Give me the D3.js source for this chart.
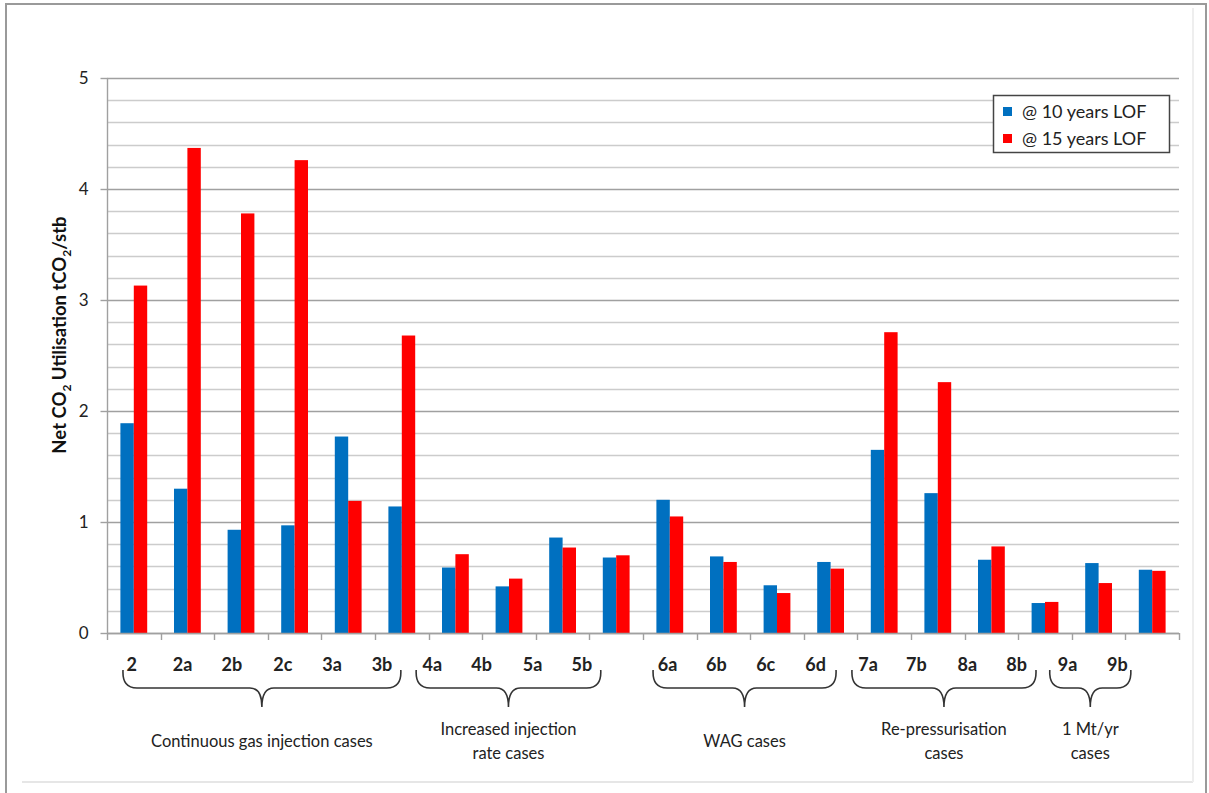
<!DOCTYPE html>
<html>
<head>
<meta charset="utf-8">
<script src="https://cdn.jsdelivr.net/npm/d3@7"></script>
<style>
  html, body { margin: 0; padding: 0; background: #fff; }
  svg { display: block; font-family: Lato, "Open Sans", sans-serif; }
</style>
</head>
<body>
<svg id="chart" width="1209" height="793"></svg>
<script>
// ---- data ----
const categories = ["2","2a","2b","2c","3a","3b","4a","4b","5a","5b","6a","6b","6c","6d","7a","7b","8a","8b","9a","9b"];
const seriesNames = ["@ 10 years LOF", "@ 15 years LOF"];
const lof10 = [1.89,1.30,0.93,0.97,1.77,1.14,0.59,0.42,0.86,0.68,1.20,0.69,0.43,0.64,1.65,1.26,0.66,0.27,0.63,0.57];
const lof15 = [3.13,4.37,3.78,4.26,1.19,2.68,0.71,0.49,0.77,0.70,1.05,0.64,0.36,0.58,2.71,2.26,0.78,0.28,0.45,0.56];
const yTicks = [0,1,2,3,4,5];
const groupLabels = [["Continuous gas injection cases"], ["Increased injection","rate cases"], ["WAG cases"], ["Re-pressurisation","cases"], ["1 Mt/yr","cases"]];
const groupFirst = [0, 6, 10, 14, 18];
const groupLast  = [5, 9, 13, 17, 19];

// ---- layout (hand-placed annotation offsets, in category units, as in the original) ----
const labelShift = [-0.04,-0.09,-0.17,-0.22,-0.30,-0.37,-0.43,-0.51,-0.56,-0.64,
                    -0.04,-0.13,-0.21,-0.28,-0.30,-0.40,-0.45,-0.53,-0.58,-0.65];
const braceStartOff = [0.28, -0.25, 0.17, -0.12, -0.43];
const braceEndOff   = [0.50, 0.23, 0.62, 0.35, 0.12];
const colors = ["#0070C0", "#FF0000"];

const svg = d3.select("#chart");
const plot = { left: 107, right: 1179, top: 78, bottom: 633 };

// frame
svg.append("rect").attr("x", 6).attr("y", 4).attr("width", 1200).attr("height", 810)
  .attr("fill", "none").attr("stroke", "#9a9a9a").attr("stroke-width", 2);
svg.append("line").attr("x1", 22).attr("x2", 1193).attr("y1", 782).attr("y2", 782)
  .attr("stroke", "#e6e6e6").attr("stroke-width", 2);
svg.append("line").attr("x1", 1193).attr("x2", 1193).attr("y1", 8).attr("y2", 782)
  .attr("stroke", "#eeeeee").attr("stroke-width", 2);

const x = d3.scaleBand().domain(categories).range([plot.left, plot.right]).padding(0);
const bw = x.bandwidth();
const step = x.step();
const x1 = d3.scaleBand().domain(seriesNames).range([bw * 0.25, bw * 0.75]).padding(0);
const y = d3.scaleLinear().domain([0, 5]).range([plot.bottom, plot.top]);

// gridlines
const minor = d3.range(0, 26).map(i => i * 0.2);
svg.append("g").selectAll("line").data(minor).join("line")
  .attr("x1", plot.left).attr("x2", plot.right)
  .attr("y1", d => Math.round(y(d)) + 0.5).attr("y2", d => Math.round(y(d)) + 0.5)
  .attr("stroke", d => (Math.abs(d - Math.round(d)) < 1e-6) ? "#a0a0a0" : "#cccccc")
  .attr("stroke-width", 1.4);

// y axis
const yAxis = d3.axisLeft(y).tickValues(yTicks).tickSize(7).tickPadding(12).tickFormat(d3.format("d"));
const gy = svg.append("g").attr("transform", `translate(${plot.left + 0.5},0)`).call(yAxis);
gy.select(".domain").attr("stroke", "#a0a0a0").attr("stroke-width", 1.4).attr("d", `M0,${plot.top}V${plot.bottom}`);
gy.selectAll(".tick line").attr("stroke", "#a0a0a0").attr("stroke-width", 1.4);
gy.selectAll(".tick text").attr("font-size", 17).attr("fill", "#222").attr("font-family", "Lato, sans-serif");

// bars
const seriesData = [lof10, lof15];
const gBars = svg.append("g");
categories.forEach((c, i) => {
  seriesNames.forEach((s, j) => {
    gBars.append("rect")
      .attr("x", x(c) + x1(s))
      .attr("y", y(seriesData[j][i]))
      .attr("width", x1.bandwidth())
      .attr("height", y(0) - y(seriesData[j][i]))
      .attr("fill", colors[j]);
  });
});

// x axis
const bounds = categories.map(c => x(c)).concat([plot.right]);
const gx = svg.append("g");
gx.append("line").attr("x1", plot.left).attr("x2", plot.right)
  .attr("y1", plot.bottom + 0.5).attr("y2", plot.bottom + 0.5)
  .attr("stroke", "#a0a0a0").attr("stroke-width", 1.4);
gx.selectAll("line.tk").data(bounds).join("line").attr("class", "tk")
  .attr("x1", d => Math.round(d) + 0.5).attr("x2", d => Math.round(d) + 0.5)
  .attr("y1", plot.bottom).attr("y2", plot.bottom + 7)
  .attr("stroke", "#a0a0a0").attr("stroke-width", 1.4);
gx.selectAll("text").data(categories).join("text")
  .attr("x", (d, i) => x(d) + bw / 2 + labelShift[i] * step).attr("y", 671)
  .attr("text-anchor", "middle").attr("font-size", 18).attr("font-weight", "bold")
  .attr("fill", "#222").text(d => d);

// braces & group labels
groupLabels.forEach((lines, k) => {
  const x0 = plot.left + (groupFirst[k] + braceStartOff[k]) * step;
  const xEnd = plot.left + (groupLast[k] + braceEndOff[k]) * step;
  const xm = (x0 + xEnd) / 2;
  const yt = 670, yl = 688, ytip = 707, r = 15, r2 = 12;
  const p = d3.path();
  p.moveTo(x0 + 1, yt);
  p.quadraticCurveTo(x0, yl, x0 + r, yl);
  p.lineTo(xm - r2, yl);
  p.quadraticCurveTo(xm, yl, xm, ytip);
  p.quadraticCurveTo(xm, yl, xm + r2, yl);
  p.lineTo(xEnd - r, yl);
  p.quadraticCurveTo(xEnd, yl, xEnd - 1, yt);
  svg.append("path").attr("d", p.toString()).attr("fill", "none")
    .attr("stroke", "#333").attr("stroke-width", 1.6);
  const t = svg.append("text").attr("text-anchor", "middle").attr("font-size", 16.5).attr("fill", "#222");
  if (lines.length === 1) {
    t.append("tspan").attr("x", xm).attr("y", 747).text(lines[0]);
  } else {
    lines.forEach((ln, li) => t.append("tspan").attr("x", xm).attr("y", 735 + li * 24).text(ln));
  }
});

// y title
const ytl = svg.append("text").attr("transform", "translate(66,335) rotate(-90)")
  .attr("text-anchor", "middle").attr("font-size", 18.5).attr("font-weight", "bold").attr("fill", "#111");
ytl.append("tspan").text("Net CO");
ytl.append("tspan").attr("font-size", 12).attr("dy", 5).text("2");
ytl.append("tspan").attr("dy", -5).text(" Utilisation tCO");
ytl.append("tspan").attr("font-size", 12).attr("dy", 5).text("2");
ytl.append("tspan").attr("dy", -5).text("/stb");

// legend
const lg = svg.append("g");
lg.append("rect").attr("x", 993.5).attr("y", 95.5).attr("width", 176).attr("height", 57)
  .attr("fill", "#fff").attr("stroke", "#444").attr("stroke-width", 1.5);
seriesNames.forEach((s, j) => {
  lg.append("rect").attr("x", 1003).attr("y", 107 + j * 27).attr("width", 9).attr("height", 9).attr("fill", colors[j]);
  lg.append("text").attr("x", 1022).attr("y", 118 + j * 27).attr("font-size", 18).attr("fill", "#222").text(s);
});
</script>
</body>
</html>
